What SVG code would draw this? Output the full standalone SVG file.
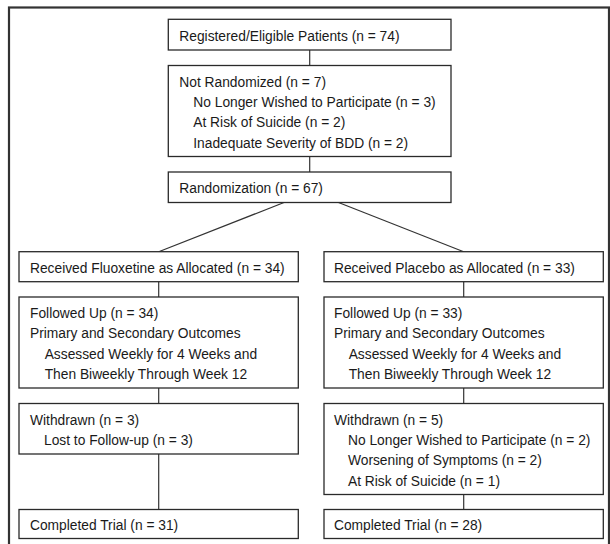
<svg xmlns="http://www.w3.org/2000/svg" width="610" height="544" viewBox="0 0 610 544">
<style>
.frame{fill:none;stroke:#333;stroke-width:2.2}
.box{fill:#fff;stroke:#2a2a2a;stroke-width:1.3}
.con{fill:none;stroke:#333;stroke-width:1.2}
.t{font-family:"Liberation Sans",Arial,sans-serif;font-size:15.5px;fill:#1a1a1a}
</style>
<rect width="610" height="544" fill="#fff"/>
<rect class="frame" x="9" y="7.5" width="600" height="560"/>
<g id="connectors">
<line class="con" x1="309.7" y1="50" x2="309.7" y2="65.5"/>
<line class="con" x1="309.7" y1="156.5" x2="309.7" y2="172"/>
<line class="con" x1="284" y1="202.5" x2="158.7" y2="251.7"/>
<line class="con" x1="338.5" y1="202.5" x2="463.7" y2="251.7"/>
<line class="con" x1="158.7" y1="281.7" x2="158.7" y2="297"/>
<line class="con" x1="158.7" y1="388" x2="158.7" y2="403.5"/>
<line class="con" x1="158.7" y1="454" x2="158.7" y2="509.5"/>
<line class="con" x1="463.7" y1="281.7" x2="463.7" y2="297"/>
<line class="con" x1="463.7" y1="388" x2="463.7" y2="403.5"/>
<line class="con" x1="463.7" y1="494.5" x2="463.7" y2="509.5"/>
</g>
<g id="registered">
<rect class="box" x="168.3" y="19.3" width="282.7" height="30.7"/>
<text class="t" transform="translate(179.3 40.8) scale(0.89 1)">Registered/Eligible Patients (n = 74)</text>
</g>
<g id="not-randomized">
<rect class="box" x="168.3" y="65.5" width="282.7" height="91"/>
<text class="t" transform="translate(179.3 86.7) scale(0.89 1)"><tspan x="0">Not Randomized (n = 7)</tspan><tspan x="15.7" dy="20.3">No Longer Wished to Participate (n = 3)</tspan><tspan x="15.7" dy="20.3">At Risk of Suicide (n = 2)</tspan><tspan x="15.7" dy="20.3">Inadequate Severity of BDD (n = 2)</tspan></text>
</g>
<g id="randomization">
<rect class="box" x="168.3" y="172" width="282.7" height="30.5"/>
<text class="t" transform="translate(179.3 193.4) scale(0.89 1)">Randomization (n = 67)</text>
</g>
<g id="received-fluoxetine">
<rect class="box" x="19" y="251.7" width="279.3" height="30"/>
<text class="t" transform="translate(30 272.9) scale(0.89 1)">Received Fluoxetine as Allocated (n = 34)</text>
</g>
<g id="received-placebo">
<rect class="box" x="324" y="251.7" width="279.3" height="30"/>
<text class="t" transform="translate(334 272.9) scale(0.89 1)">Received Placebo as Allocated (n = 33)</text>
</g>
<g id="followed-fluoxetine">
<rect class="box" x="19" y="297" width="279.3" height="91"/>
<text class="t" transform="translate(30 318.2) scale(0.89 1)"><tspan x="0">Followed Up (n = 34)</tspan><tspan x="0" dy="20.3">Primary and Secondary Outcomes</tspan><tspan x="16.5" dy="20.3">Assessed Weekly for 4 Weeks and</tspan><tspan x="16.5" dy="20.3">Then Biweekly Through Week 12</tspan></text>
</g>
<g id="followed-placebo">
<rect class="box" x="324" y="297" width="279.3" height="91"/>
<text class="t" transform="translate(334 318.2) scale(0.89 1)"><tspan x="0">Followed Up (n = 33)</tspan><tspan x="0" dy="20.3">Primary and Secondary Outcomes</tspan><tspan x="16.5" dy="20.3">Assessed Weekly for 4 Weeks and</tspan><tspan x="16.5" dy="20.3">Then Biweekly Through Week 12</tspan></text>
</g>
<g id="withdrawn-fluoxetine">
<rect class="box" x="19" y="403.5" width="279.3" height="50.5"/>
<text class="t" transform="translate(30 424.7) scale(0.89 1)"><tspan x="0">Withdrawn (n = 3)</tspan><tspan x="15.7" dy="20.3">Lost to Follow-up (n = 3)</tspan></text>
</g>
<g id="withdrawn-placebo">
<rect class="box" x="324" y="403.5" width="279.3" height="91"/>
<text class="t" transform="translate(334 424.7) scale(0.89 1)"><tspan x="0">Withdrawn (n = 5)</tspan><tspan x="15.7" dy="20.3">No Longer Wished to Participate (n = 2)</tspan><tspan x="15.7" dy="20.3">Worsening of Symptoms (n = 2)</tspan><tspan x="15.7" dy="20.3">At Risk of Suicide (n = 1)</tspan></text>
</g>
<g id="completed-fluoxetine">
<rect class="box" x="19" y="509.5" width="279.3" height="29"/>
<text class="t" transform="translate(30 530) scale(0.89 1)">Completed Trial (n = 31)</text>
</g>
<g id="completed-placebo">
<rect class="box" x="324" y="509.5" width="279.3" height="29"/>
<text class="t" transform="translate(334 530) scale(0.89 1)">Completed Trial (n = 28)</text>
</g>
</svg>
